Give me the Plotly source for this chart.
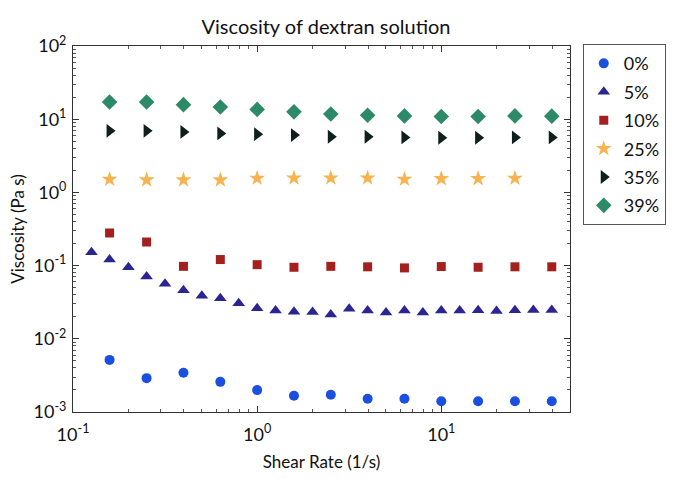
import plotly.graph_objects as go

# Shear rates (1/s)
x_main = [0.158, 0.251, 0.398, 0.631, 1.0, 1.585, 2.512, 3.981, 6.31, 10.0, 15.85, 25.12, 39.81]
x_25 = [0.158, 0.251, 0.398, 0.631, 1.0, 1.585, 2.512, 3.981, 6.31, 10.0, 15.85, 25.12]
x_5 = [0.126, 0.158, 0.2, 0.251, 0.316, 0.398, 0.501, 0.631, 0.794, 1.0, 1.259, 1.585,
       2.0, 2.512, 3.162, 3.981, 5.012, 6.31, 7.943, 10.0, 12.59, 15.85, 19.95, 25.12,
       31.62, 39.81, 50.12]

# Viscosity (Pa s)
v_0 = [0.00515, 0.0029, 0.00343, 0.00258, 0.00199, 0.00167, 0.00172, 0.00152, 0.00152,
       0.0014, 0.0014, 0.0014, 0.0014]
v_5 = [0.152, 0.121, 0.0949, 0.0708, 0.0564, 0.0461, 0.0387, 0.0359, 0.0307, 0.0262,
       0.0244, 0.0234, 0.0232, 0.0215, 0.0258, 0.0243, 0.0229, 0.0244, 0.0229, 0.0244,
       0.0244, 0.0246, 0.0239, 0.0246, 0.0248, 0.0248, 0.0244]
v_10 = [0.279, 0.21, 0.0977, 0.121, 0.103, 0.0949, 0.0977, 0.0963, 0.093, 0.097,
        0.0949, 0.0963, 0.0963]
v_25 = [1.51, 1.48, 1.48, 1.48, 1.56, 1.57, 1.57, 1.57, 1.51, 1.54, 1.54, 1.56]
v_35 = [6.93, 6.93, 6.71, 6.39, 6.25, 6.06, 5.75, 5.75, 5.64, 5.57, 5.57, 5.64, 5.64]
v_39 = [17.2, 17.2, 15.8, 14.7, 13.6, 12.6, 11.8, 11.3, 11.1, 10.9, 10.9, 11.1, 11.0]

labels = ["0%", "5%", "10%", "25%", "35%", "39%"]
xs = [x_main, x_5, x_main, x_25, x_main, x_main]
ys = [v_0, v_5, v_10, v_25, v_35, v_39]

# Tick labels
x_exps = [-1, 0, 1]
y_exps = [-3, -2, -1, 0, 1, 2]

symbols = ["circle", "triangle-up", "square", "star", "triangle-right", "diamond"]
colors = ["#1a4fe0", "#2b2491", "#a3201f", "#f7b350", "#0e1f1e", "#2c8a68"]
sizes = [10, 11, 9, 12, 12, 12]

fig = go.Figure()
for lab, x, y, s, c, sz in zip(labels, xs, ys, symbols, colors, sizes):
    fig.add_trace(go.Scatter(
        x=x, y=y, mode="markers", name=lab, cliponaxis=False, legendgroup=lab,
        marker=dict(symbol=s, color=c, size=sz, line=dict(width=0)),
    ))


def minor_vals(exps):
    vals = []
    for e in range(min(exps), max(exps) + 1):
        for m in range(2, 10):
            vals.append(m * 10.0 ** e)
    return vals


FONT = "Lato"
axis_common = dict(
    type="log", showgrid=False, zeroline=False, showline=True, linecolor="#333333",
    linewidth=1, mirror="allticks", ticks="inside", ticklen=6, tickcolor="#333333",
    tickfont=dict(family=FONT, size=18, color="#111111"),
)

fig.update_layout(
    width=678, height=479,
    margin=dict(l=73, r=99, t=46, b=67),
    paper_bgcolor="white", plot_bgcolor="white",
    font=dict(family=FONT, color="#111111"),
    title=dict(text="Viscosity of dextran solution", x=326/678, xanchor="center",
               y=1 - 27/479, yanchor="middle", font=dict(family=FONT, size=20, color="#111111")),
    xaxis=dict(axis_common, range=[-1, 1.699], tickmode="array",
               tickvals=[10.0 ** e for e in x_exps],
               ticktext=["10<sup>%d</sup>" % e for e in x_exps],
               ticklabelstandoff=6,
               minor=dict(ticks="inside", ticklen=3, tickcolor="#555555", showgrid=False,
                          tickmode="array", tickvals=minor_vals(x_exps)),
               title=dict(text="Shear Rate (1/s)", font=dict(family=FONT, size=17), standoff=12)),
    yaxis=dict(axis_common, range=[-3, 2], tickmode="array",
               tickvals=[10.0 ** e for e in y_exps],
               ticktext=["10<sup>%d</sup>" % e for e in y_exps],
               ticklabelstandoff=2,
               minor=dict(ticks="inside", ticklen=3, tickcolor="#555555", showgrid=False,
                          tickmode="array", tickvals=minor_vals(y_exps)),
               title=dict(text="Viscosity (Pa s)", font=dict(family=FONT, size=17), standoff=4)),
    legend=dict(x=(592 - 73) / 506, y=1.005, xanchor="left", yanchor="top",
                bordercolor="#555555", borderwidth=1, bgcolor="white",
                font=dict(family=FONT, size=18, color="#111111"),
                itemwidth=30, tracegroupgap=2),
    showlegend=True,
)

fig.write_html("out.html")
